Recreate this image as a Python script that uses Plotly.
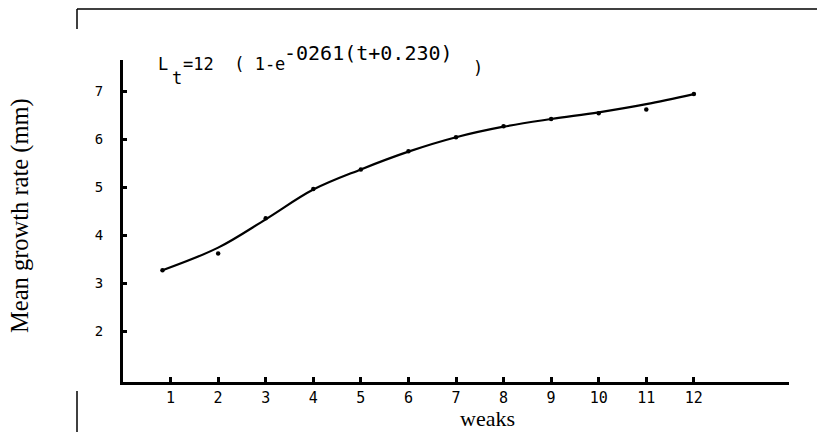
import plotly.graph_objects as go

# ---- data ----
weeks_obs = [0.83, 2, 3, 4, 5, 6, 7, 8, 9, 10, 11, 12]
growth_obs = [3.27, 3.62, 4.35, 4.96, 5.37, 5.75, 6.04, 6.27, 6.42, 6.54, 6.62, 6.94]
weeks_fit = [0.83, 2, 3, 4, 5, 6, 7, 8, 9, 10, 11, 12]
growth_fit = [3.27, 3.74, 4.33, 4.95, 5.37, 5.74, 6.04, 6.26, 6.42, 6.56, 6.73, 6.94]
x_ticks = [1, 2, 3, 4, 5, 6, 7, 8, 9, 10, 11, 12]
y_ticks = [2, 3, 4, 5, 6, 7]

W, H = 817, 432
ML, MR, MT, MB = 123, 28, 60, 50
PW, PH = W - ML - MR, H - MT - MB


def px(x):
    return (x - ML) / PW


def py(y):
    return (H - MB - y) / PH


fig = go.Figure()
fig.add_trace(go.Scatter(x=weeks_fit, y=growth_fit, mode="lines",
                         line=dict(color="black", width=2.2, shape="spline", smoothing=1.0),
                         showlegend=False, hoverinfo="skip"))
fig.add_trace(go.Scatter(x=weeks_obs, y=growth_obs, mode="markers",
                         marker=dict(color="black", size=4.5),
                         showlegend=False))

mono = "DejaVu Sans Mono"
serif = "Liberation Serif"

ann = []
ann.append(dict(text="L", x=px(156), y=py(64), xanchor="left", yanchor="middle",
                font=dict(family=mono, size=17, color="black")))
ann.append(dict(text="t", x=px(170), y=py(78), xanchor="left", yanchor="middle",
                font=dict(family=mono, size=17, color="black")))
ann.append(dict(text="=12  ( 1-e", x=px(181), y=py(64), xanchor="left", yanchor="middle",
                font=dict(family=mono, size=17, color="black")))
ann.append(dict(text="-0261(t+0.230)", x=px(282), y=py(53), xanchor="left", yanchor="middle",
                font=dict(family=mono, size=20, color="black")))
ann.append(dict(text=")", x=px(471), y=py(68), xanchor="left", yanchor="middle",
                font=dict(family=mono, size=17, color="black")))
ann.append(dict(text="Mean growth rate (mm)", x=px(20), y=py(215), xanchor="center", yanchor="middle",
                textangle=-90, font=dict(family=serif, size=24.5, color="black")))
ann.append(dict(text="weaks", x=px(487), y=py(418), xanchor="center", yanchor="middle",
                font=dict(family=serif, size=22, color="black")))
for a in ann:
    a.update(xref="paper", yref="paper", showarrow=False)

shapes = [
    dict(type="line", xref="paper", yref="paper", x0=px(77), x1=px(817), y0=py(9), y1=py(9),
         line=dict(color="black", width=1.5)),
    dict(type="line", xref="paper", yref="paper", x0=px(77), x1=px(77), y0=py(9), y1=py(29),
         line=dict(color="black", width=1.5)),
    dict(type="line", xref="paper", yref="paper", x0=px(77), x1=px(77), y0=py(391), y1=py(432),
         line=dict(color="black", width=1.5)),
]

fig.update_layout(
    width=W, height=H,
    margin=dict(l=ML, r=MR, t=MT, b=MB),
    paper_bgcolor="white", plot_bgcolor="white",
    annotations=ann, shapes=shapes,
    xaxis=dict(range=[0, 14], tickvals=x_ticks, ticktext=[str(v) for v in x_ticks],
               showgrid=False, zeroline=False, showline=True, linecolor="black", linewidth=3,
               ticks="inside", ticklen=5, tickwidth=2.5, tickcolor="black",
               tickfont=dict(family=mono, size=15, color="black")),
    yaxis=dict(range=[0.94, 7.65], tickvals=y_ticks, ticktext=[str(v) for v in y_ticks],
               showgrid=False, zeroline=False, showline=True, linecolor="black", linewidth=3,
               ticks="inside", ticklen=4, tickwidth=2.5, tickcolor="black",
               ticklabelstandoff=14,
               tickfont=dict(family=mono, size=14, color="black")),
)

fig.write_html("out.html")
